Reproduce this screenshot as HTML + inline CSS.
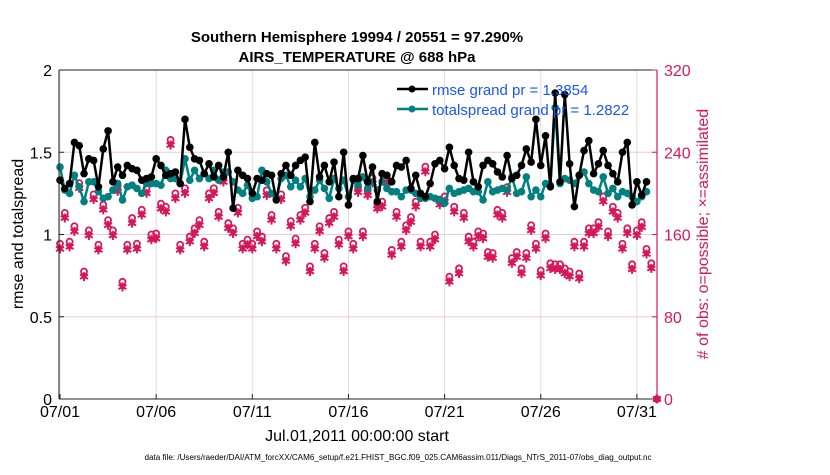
<!DOCTYPE html>
<html><head><meta charset="utf-8"><style>
body{margin:0;background:#fff;}
svg text{font-family:"Liberation Sans",Arial,sans-serif;}
</style></head><body>
<svg id="chart" width="830" height="470" xmlns="http://www.w3.org/2000/svg">
<rect width="830" height="470" fill="#fff"/>
<g id="grid"></g>
<g id="series"></g>
<g id="axes"></g>
<text x="357" y="42" text-anchor="middle" font-size="15" font-weight="bold">Southern Hemisphere 19994 / 20551 = 97.290%</text>
<text x="357" y="62" text-anchor="middle" font-size="15" font-weight="bold">AIRS_TEMPERATURE @ 688 hPa</text>
<text transform="translate(23,234) rotate(-90)" text-anchor="middle" font-size="16">rmse and totalspread</text>
<text transform="translate(708,234) rotate(-90)" text-anchor="middle" font-size="16" fill="#d6185a"># of obs: o=possible; ×=assimilated</text>
<text x="357" y="441" text-anchor="middle" font-size="16">Jul.01,2011 00:00:00 start</text>
<text x="398" y="460" text-anchor="middle" font-size="8" textLength="507" lengthAdjust="spacingAndGlyphs">data file: /Users/raeder/DAI/ATM_forcXX/CAM6_setup/f.e21.FHIST_BGC.f09_025.CAM6assim.011/Diags_NTrS_2011-07/obs_diag_output.nc</text>
<g>
<line x1="397" y1="89" x2="428" y2="89" stroke="#000" stroke-width="2.5"/>
<circle cx="412" cy="89" r="3.5" fill="#000"/>
<text x="432" y="95" font-size="15" fill="#1a56f0">rmse grand pr = 1.3854</text>
<line x1="397" y1="109" x2="428" y2="109" stroke="#008080" stroke-width="2.5"/>
<circle cx="412" cy="109" r="3.5" fill="#008080"/>
<text x="432" y="115" font-size="15" fill="#1a56f0">totalspread grand pr = 1.2822</text>
</g>
</svg>
<script>
const rmse=[1.33,1.28,1.31,1.56,1.54,1.37,1.46,1.45,1.29,1.52,1.63,1.32,1.41,1.36,1.42,1.40,1.39,1.33,1.34,1.35,1.46,1.42,1.36,1.37,1.38,1.31,1.70,1.53,1.46,1.45,1.37,1.43,1.35,1.42,1.35,1.50,1.16,1.39,1.36,1.34,1.25,1.34,1.33,1.37,1.36,1.21,1.37,1.42,1.36,1.42,1.45,1.47,1.20,1.56,1.35,1.42,1.32,1.44,1.23,1.50,1.18,1.34,
1.34,1.48,1.32,1.41,1.20,1.37,1.36,1.32,1.42,1.41,1.45,1.28,1.36,1.25,1.23,1.31,1.43,1.45,1.40,1.53,1.42,1.34,1.33,1.50,1.32,1.29,1.42,1.45,1.43,1.38,1.35,1.48,1.34,1.36,1.42,1.52,1.44,1.70,1.42,1.60,1.29,1.86,1.32,1.85,1.43,1.17,1.36,1.51,1.57,1.37,1.43,1.51,1.42,1.37,1.32,1.50,1.56,1.18,1.32,1.24,1.32];
const spread=[1.41,1.27,1.25,1.36,1.29,1.20,1.32,1.32,1.26,1.22,1.23,1.27,1.31,1.21,1.29,1.30,1.28,1.25,1.31,1.31,1.31,1.30,1.39,1.34,1.34,1.31,1.46,1.33,1.39,1.34,1.37,1.34,1.39,1.33,1.38,1.38,1.32,1.27,1.25,1.30,1.22,1.23,1.39,1.32,1.25,1.22,1.34,1.36,1.29,1.33,1.29,1.34,1.23,1.27,1.33,1.28,1.22,1.34,1.28,1.33,1.23,1.33,
1.30,1.35,1.28,1.32,1.27,1.32,1.28,1.26,1.26,1.23,1.27,1.27,1.25,1.22,1.22,1.23,1.22,1.21,1.19,1.28,1.25,1.26,1.27,1.28,1.26,1.26,1.21,1.32,1.26,1.27,1.28,1.27,1.35,1.25,1.26,1.35,1.23,1.27,1.23,1.31,1.30,1.77,1.31,1.34,1.33,1.31,1.36,1.38,1.31,1.27,1.26,1.35,1.25,1.28,1.23,1.26,1.25,1.23,1.20,1.23,1.26];
const assim=[146,176,148,163,205,119,159,194,145,184,169,159,202,109,145,171,146,179,200,155,156,185,182,247,195,145,200,153,161,169,148,195,200,177,211,166,161,181,146,150,146,158,153,198,174,146,194,134,168,151,174,181,124,146,163,137,171,177,150,124,158,146,
201,158,198,210,185,187,210,140,177,148,164,172,187,148,221,148,155,189,192,114,182,122,176,153,148,158,156,138,137,179,176,201,132,138,122,137,164,146,120,156,127,126,126,122,119,148,117,148,161,161,167,192,158,182,176,146,161,126,159,167,141,127,0];
const possible=[151,181,153,168,210,124,164,199,150,189,174,164,207,114,150,176,151,184,205,160,161,190,187,252,200,150,205,158,166,174,153,200,205,182,216,171,166,186,151,155,151,163,158,203,179,151,199,139,173,156,179,186,129,151,168,142,176,182,155,129,163,151,
206,163,203,215,190,192,215,145,182,153,169,177,192,153,226,153,160,194,197,119,187,127,181,158,153,163,161,143,142,184,181,206,137,143,127,142,169,151,125,161,132,131,131,127,124,153,122,153,166,166,172,197,163,187,181,151,166,131,164,172,146,132,0];
const xTickDays=[0,5,10,15,20,25,30];
const xTickLabels=["07/01","07/06","07/11","07/16","07/21","07/26","07/31"];
const leftTicks=[0,0.5,1,1.5,2];
const leftTickLabels=["0","0.5","1","1.5","2"];
const rightTicks=[0,80,160,240,320];

const X0=60,PXDAY=19.23,Y0=399,Y1=70,XL=59,XR=657;
const xs=d=>X0+d*PXDAY;
const yL=v=>Y0-(v/2)*(Y0-Y1);
const yR=v=>Y0-(v/320)*(Y0-Y1);
const NS="http://www.w3.org/2000/svg";
function mk(tag,attrs,parent){const e=document.createElementNS(NS,tag);for(const k in attrs)e.setAttribute(k,attrs[k]);parent.appendChild(e);return e;}
const grid=document.getElementById('grid'),ser=document.getElementById('series'),ax=document.getElementById('axes');
xTickDays.forEach(d=>{const l=mk('line',{x1:xs(d),x2:xs(d),y1:Y1,y2:Y0,stroke:'#dcdcdc','stroke-width':1},grid);

});
rightTicks.slice(1,4).forEach(v=>{const l=mk('line',{x1:XL,x2:XR,y1:yR(v),y2:yR(v),stroke:'#f0c8d4','stroke-width':1},grid);

});
const MAG='#d6185a';
possible.forEach((v,i)=>{const d=i===possible.length-1?31.04:i*0.25;const c=mk('circle',{cx:xs(d),cy:yR(v),r:3,fill:'none',stroke:MAG,'stroke-width':1.8},ser);

});
assim.forEach((v,i)=>{const d=i===assim.length-1?31.04:i*0.25;const cx=xs(d),cy=yR(v);const g=mk('g',{stroke:MAG,'stroke-width':2},ser);


[[0,4.5],[4,2.2],[4,-2.2]].forEach(([a,b])=>mk('line',{x1:cx-a,y1:cy-b,x2:cx+a,y2:cy+b},g));
mk('circle',{cx:cx,cy:cy,r:2.5,fill:MAG,stroke:'none'},g);});
function drawLine(arr,color,name){const pts=arr.map((v,i)=>xs(i*0.25)+','+yL(v)).join(' ');
const p=mk('polyline',{points:pts,fill:'none',stroke:color,'stroke-width':2.5,'stroke-linejoin':'round'},ser);


arr.forEach((v,i)=>{const c=mk('circle',{cx:xs(i*0.25),cy:yL(v),r:3.8,fill:color},ser);

});}
drawLine(spread,'#008080','totalspread');
drawLine(rmse,'#000','rmse');
mk('line',{x1:XL,x2:XR,y1:Y1,y2:Y1,stroke:'#222','stroke-width':1},ax);
mk('line',{x1:XL,x2:XR,y1:Y0,y2:Y0,stroke:'#222','stroke-width':1},ax);
mk('line',{x1:XL,x2:XL,y1:Y1,y2:Y0,stroke:'#222','stroke-width':1},ax);
mk('line',{x1:XR,x2:XR,y1:Y1,y2:Y0,stroke:MAG,'stroke-width':1.2},ax);
xTickDays.forEach((d,i)=>{mk('line',{x1:xs(d),x2:xs(d),y1:Y0,y2:Y0-5,stroke:'#222'},ax);
const t=mk('text',{x:xs(d),y:417,'text-anchor':'middle','font-size':16},ax);t.textContent=xTickLabels[i];

});
leftTicks.forEach((v,i)=>{mk('line',{x1:XL,x2:XL+5,y1:yL(v),y2:yL(v),stroke:'#222'},ax);
const t=mk('text',{x:52,y:yL(v)+6,'text-anchor':'end','font-size':16},ax);t.textContent=leftTickLabels[i];

});
rightTicks.forEach(v=>{mk('line',{x1:XR-5,x2:XR,y1:yR(v),y2:yR(v),stroke:MAG},ax);
const t=mk('text',{x:664,y:yR(v)+6,'font-size':16,fill:MAG},ax);t.textContent=String(v);

});
</script>
</body></html>
